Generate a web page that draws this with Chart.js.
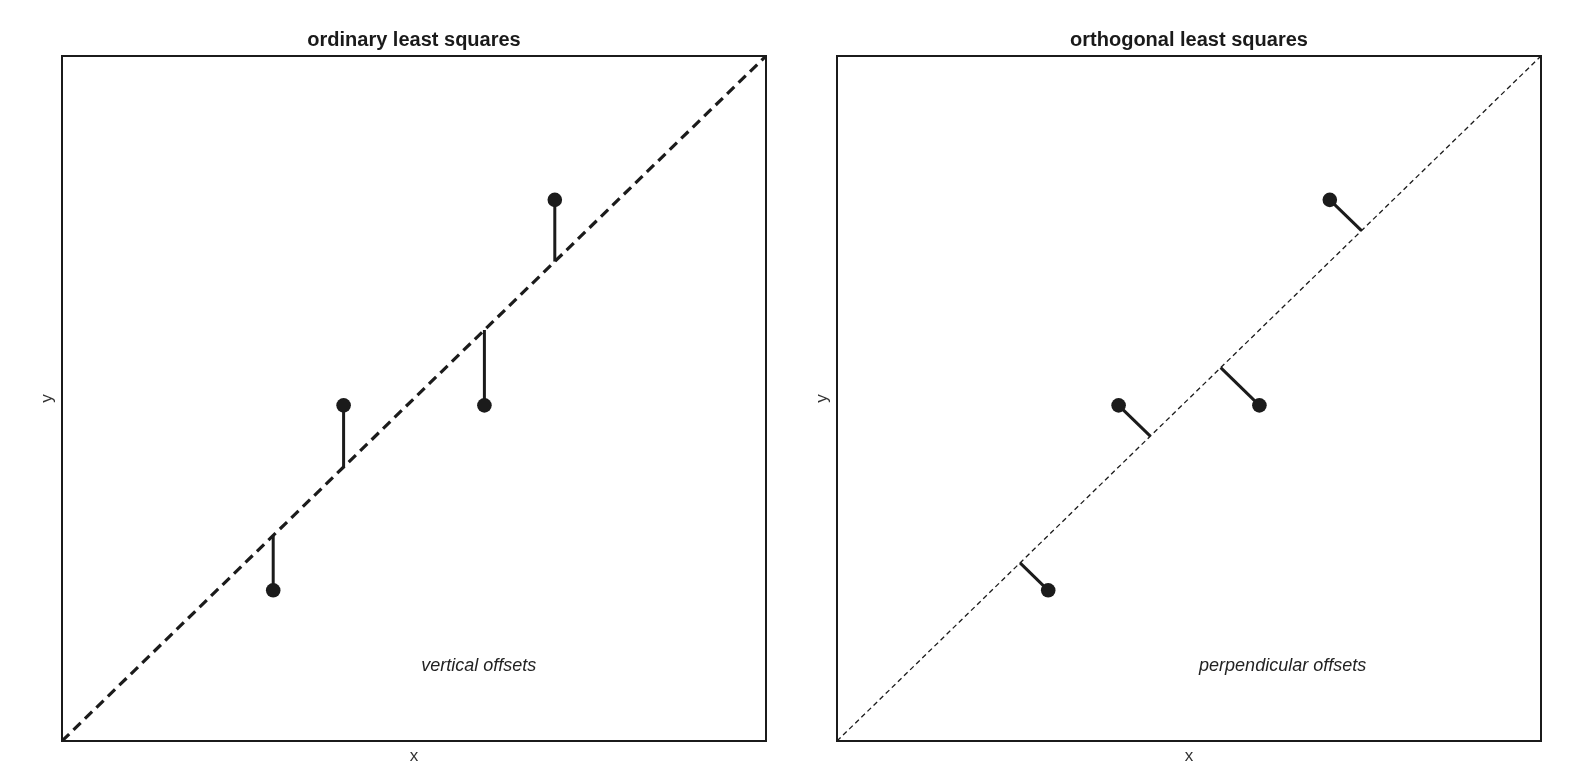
<!DOCTYPE html>
<html>
<head>
<meta charset="utf-8">
<script src="https://cdn.jsdelivr.net/npm/chart.js@4.4.0/dist/chart.umd.min.js"></script>
<style>
  body { margin: 0; background: #fff; width: 1592px; height: 779px; overflow: hidden; position: relative; }
  canvas { position: absolute; top: 0; }
  #olsChart { left: 0; }
  #tlsChart { left: 775px; }
</style>
</head>
<body>
<canvas id="olsChart" width="800" height="779"></canvas>
<canvas id="tlsChart" width="800" height="779"></canvas>
<script>
// Data (axes run 0..10 in both directions)
const pointX = [3, 4, 6, 7];
const pointY = [2.2, 4.9, 4.9, 7.9];
const fitLine = [[0, 0], [10, 10]];   // y = x
const panelTitles = ['ordinary least squares', 'orthogonal least squares'];
const panelNotes = ['vertical offsets', 'perpendicular offsets'];
const noteX = [5.92, 6.33];
const noteY = [1.09, 1.09];

const ink = '#1b1b1b';
const fontFamily = '"Liberation Sans", Arial, sans-serif';

// Frame around plot area + italic caption
const framePlugin = {
    id: 'frame',
    afterDatasetsDraw(chart, args, opts) {
        const { ctx, chartArea: a, scales } = chart;
        ctx.save();
        ctx.strokeStyle = ink;
        ctx.lineWidth = 2;
        ctx.strokeRect(a.left, a.top, a.right - a.left, a.bottom - a.top);
        ctx.fillStyle = '#222';
        ctx.font = 'italic 18px ' + fontFamily;
        ctx.textAlign = 'center';
        ctx.textBaseline = 'middle';
        ctx.fillText(opts.note, scales.x.getPixelForValue(opts.nx), scales.y.getPixelForValue(opts.ny));
        ctx.restore();
    }
};

// Vertical offset: point -> (x, fitted y)
function verticalOffsets() {
    return pointX.map((x, i) => [{ x: x, y: pointY[i] }, { x: x, y: x }]);
}

// Perpendicular offset onto y = x: foot at ((x+y)/2, (x+y)/2)
function perpendicularOffsets() {
    return pointX.map((x, i) => {
        const m = (x + pointY[i]) / 2;
        return [{ x: x, y: pointY[i] }, { x: m, y: m }];
    });
}

function makePanel(id, idx, segments, dash, dashWidth) {
    const ctx = document.getElementById(id).getContext('2d');
    const datasets = [{
        type: 'scatter',
        data: pointX.map((x, i) => ({ x: x, y: pointY[i] })),
        pointRadius: 7.3,
        pointBackgroundColor: ink,
        pointBorderWidth: 0
    }];
    segments.forEach(seg => datasets.push({
        type: 'line',
        data: seg,
        borderColor: ink,
        borderWidth: 3,
        pointRadius: 0,
        borderCapStyle: 'butt'
    }));
    datasets.push({
        type: 'line',
        data: fitLine.map(p => ({ x: p[0], y: p[1] })),
        borderColor: ink,
        borderWidth: dashWidth,
        borderDash: dash,
        pointRadius: 0
    });

    const noGrid = { display: false, drawTicks: false };

    new Chart(ctx, {
        type: 'scatter',
        data: { datasets: datasets },
        options: {
            responsive: false,
            animation: false,
            layout: { autoPadding: false, padding: { left: 36.8, right: 34, top: 20, bottom: 12.8 } },
            plugins: {
                legend: { display: false },
                tooltip: { enabled: false },
                frame: { note: panelNotes[idx], nx: noteX[idx], ny: noteY[idx] }
            },
            scales: {
                x: {
                    type: 'linear', min: 0, max: 10, position: 'bottom',
                    ticks: { display: false }, grid: noGrid, border: { display: false },
                    title: { display: true, text: 'x', color: '#333',
                        font: { size: 17, family: fontFamily },
                        padding: { top: 4.8, bottom: 0 } }
                },
                xTop: {
                    type: 'linear', min: 0, max: 10, position: 'top',
                    ticks: { display: false }, grid: noGrid, border: { display: false },
                    title: { display: true, text: panelTitles[idx], color: '#1a1a1a',
                        font: { size: 20, weight: 'bold', family: fontFamily },
                        padding: { top: 8, bottom: 4 } }
                },
                y: {
                    type: 'linear', min: 0, max: 10,
                    ticks: { display: false }, grid: noGrid, border: { display: false },
                    title: { display: true, text: 'y', color: '#333',
                        font: { size: 17, family: fontFamily },
                        padding: { top: 0, bottom: 4.8 } }
                }
            }
        },
        plugins: [framePlugin]
    });
}

makePanel('olsChart', 0, verticalOffsets(), [10, 6], 3.2);
makePanel('tlsChart', 1, perpendicularOffsets(), [5, 3.5], 1.3);
</script>
</body>
</html>
